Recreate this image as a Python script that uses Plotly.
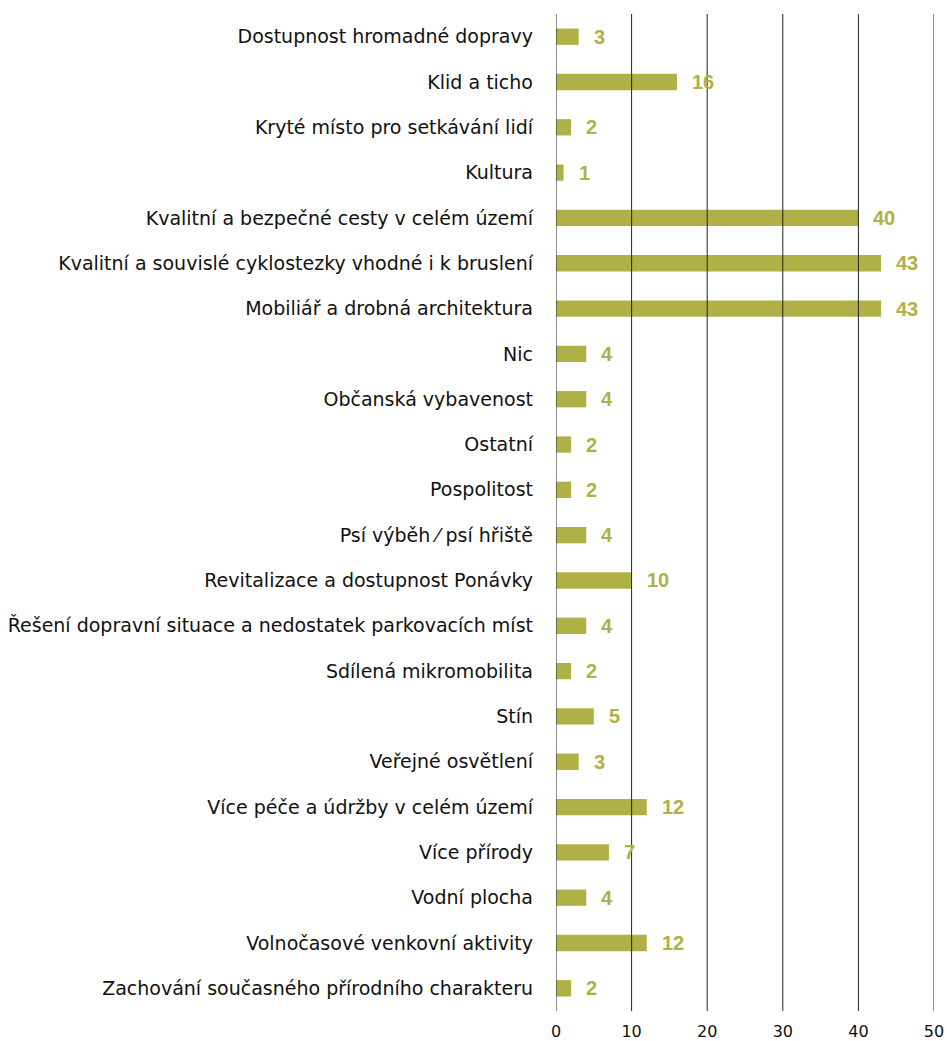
import plotly.graph_objects as go

categories = [
    "Dostupnost hromadné dopravy",
    "Klid a ticho",
    "Kryté místo pro setkávání lidí",
    "Kultura",
    "Kvalitní a bezpečné cesty v celém území",
    "Kvalitní a souvislé cyklostezky vhodné i k bruslení",
    "Mobiliář a drobná architektura",
    "Nic",
    "Občanská vybavenost",
    "Ostatní",
    "Pospolitost",
    "Psí výběh ⁄ psí hřiště",
    "Revitalizace a dostupnost Ponávky",
    "Řešení dopravní situace a nedostatek parkovacích míst",
    "Sdílená mikromobilita",
    "Stín",
    "Veřejné osvětlení",
    "Více péče a údržby v celém území",
    "Více přírody",
    "Vodní plocha",
    "Volnočasové venkovní aktivity",
    "Zachování současného přírodního charakteru",
]
values = [3, 16, 2, 1, 40, 43, 43, 4, 4, 2, 2, 4, 10, 4, 2, 5, 3, 12, 7, 4, 12, 2]
x_ticks = [0, 10, 20, 30, 40, 50]

BAR = "#afb146"
FONT = "DejaVu Sans, sans-serif"
LABEL_FONT = "Liberation Sans, Arial, sans-serif"

fig = go.Figure()
fig.add_trace(go.Bar(
    y=categories, x=values, orientation="h",
    marker=dict(color=BAR, line=dict(width=0)),
    width=0.36, hoverinfo="skip",
))

for c, v in zip(categories, values):
    fig.add_annotation(
        x=v, y=c, text=f"<b>{v}</b>", showarrow=False,
        xanchor="left", yanchor="middle", xshift=13,
        font=dict(family=LABEL_FONT, size=20, color=BAR),
    )

for t in x_ticks:
    fig.add_shape(type="line", x0=t, x1=t, y0=0, y1=1, xref="x", yref="paper",
                  line=dict(color="#222", width=1), layer="above")

fig.update_layout(
    width=947, height=1041,
    margin=dict(l=556, r=13, t=14, b=30, autoexpand=False),
    plot_bgcolor="white", paper_bgcolor="white",
    showlegend=False, bargap=0.6,
    font=dict(family=FONT, color="#111"),
)
fig.update_xaxes(
    range=[0, 50], tickvals=x_ticks, showgrid=False, zeroline=False,
    showline=False, ticks="", tickfont=dict(size=16, family=FONT, color="#111"),
    ticklabelstandoff=9, automargin=False, fixedrange=True,
)
fig.update_yaxes(
    autorange="reversed", showgrid=False, zeroline=False, showline=False,
    ticks="", tickfont=dict(size=19, family=FONT, color="#111"),
    ticklabelstandoff=22, automargin=False, fixedrange=True,
)

fig.write_html("out.html", config={"displayModeBar": False},
               post_script="document.body.style.margin='0';document.body.style.overflow='hidden';")
